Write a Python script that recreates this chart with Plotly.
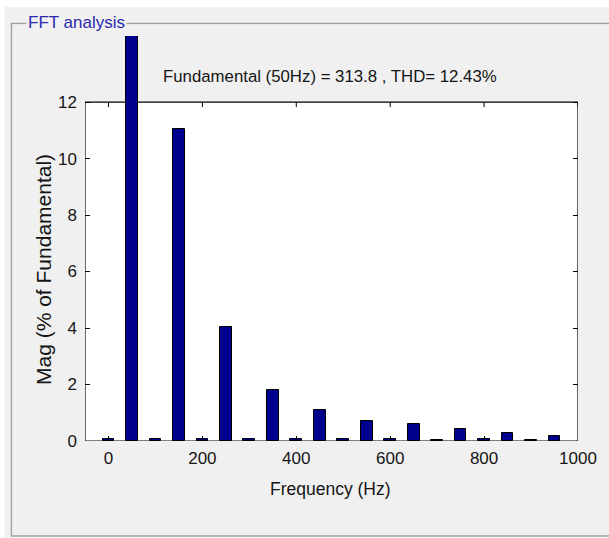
import plotly.graph_objects as go

# ---- data ----
freq_hz = [0, 50, 100, 150, 200, 250, 300, 350, 400, 450,
           500, 550, 600, 650, 700, 750, 800, 850, 900, 950]
mag_pct = [0.08, 100.0, 0.07, 11.05, 0.08, 4.05, 0.06, 1.81, 0.07, 1.10,
           0.06, 0.71, 0.06, 0.59, 0.05, 0.41, 0.06, 0.30, 0.05, 0.19]
x_ticks = [0, 200, 400, 600, 800, 1000]
y_ticks = [0, 2, 4, 6, 8, 10, 12]
title_text = "Fundamental (50Hz) = 313.8 , THD= 12.43%"
panel_title = "FFT analysis"
x_label = "Frequency (Hz)"
y_label = "Mag (% of Fundamental)"

W, H = 609, 538
L, R, T, B = 85, 31, 36, 97
PW, PH = W - L - R, H - T - B

def px(x):
    return (x - L) / PW

def py(y):
    return (H - B - y) / PH

FONT = "Liberation Sans, Arial, sans-serif"
TXT = "#151515"

fig = go.Figure(go.Bar(
    x=freq_hz, y=mag_pct, width=25,
    marker=dict(color="#00008f", line=dict(color="black", width=1)),
    hoverinfo="x+y",
))

shapes = []
# white strips at window edge
shapes.append(dict(type="rect", xref="paper", yref="paper", x0=px(-5), x1=px(W + 5),
                   y0=py(7), y1=py(-5), fillcolor="white", line=dict(width=0), layer="below"))
shapes.append(dict(type="rect", xref="paper", yref="paper", x0=px(-5), x1=px(4.5),
                   y0=py(H + 5), y1=py(-5), fillcolor="white", line=dict(width=0), layer="below"))
# panel etched border
shapes.append(dict(type="rect", xref="paper", yref="paper", x0=px(12.5), x1=px(W + 3),
                   y0=py(537), y1=py(24.5), line=dict(color="white", width=1), layer="below"))
shapes.append(dict(type="rect", xref="paper", yref="paper", x0=px(11.5), x1=px(W + 2),
                   y0=py(536), y1=py(23.5), line=dict(color="#a0a0a0", width=1.5), layer="below"))
# axes box
shapes.append(dict(type="rect", xref="x", yref="y", x0=-50, x1=1000, y0=0, y1=12,
                   fillcolor="white", line=dict(color="black", width=1.2), layer="below"))
# top ticks
for v in x_ticks:
    shapes.append(dict(type="line", xref="x", yref="y", ysizemode="pixel", yanchor=12,
                       x0=v, x1=v, y0=0, y1=-5, line=dict(color="black", width=1)))

annotations = [
    dict(text=title_text, xref="paper", yref="paper", x=px(330), y=py(76),
         xanchor="center", yanchor="middle", showarrow=False,
         font=dict(family=FONT, size=16.8, color=TXT)),
    dict(text=panel_title, xref="paper", yref="paper", x=px(76), y=py(22),
         xanchor="center", yanchor="middle", showarrow=False, bgcolor="#f0f0f0",
         borderpad=1, font=dict(family=FONT, size=17, color="#2a2ab0")),
    dict(text=x_label, xref="paper", yref="paper", x=px(330), y=py(489),
         xanchor="center", yanchor="middle", showarrow=False,
         font=dict(family=FONT, size=17.5, color=TXT)),
    dict(text=y_label, xref="paper", yref="paper", x=px(43), y=py(270),
         xanchor="center", yanchor="middle", showarrow=False, textangle=-90,
         font=dict(family=FONT, size=21, color=TXT)),
]

fig.update_layout(
    width=W, height=H,
    margin=dict(l=L, r=R, t=T, b=B, pad=0),
    paper_bgcolor="#f0f0f0", plot_bgcolor="rgba(0,0,0,0)",
    showlegend=False, bargap=0,
    shapes=shapes, annotations=annotations,
    xaxis=dict(range=[-50, 1000], tickvals=x_ticks, ticks="inside", ticklen=5,
               tickcolor="black", showgrid=False, zeroline=False, showline=False,
               ticklabelstandoff=5,
               tickfont=dict(family=FONT, size=17, color=TXT), fixedrange=True),
    yaxis=dict(range=[0, 14.34], tickvals=y_ticks, ticks="inside", ticklen=5,
               tickcolor="black", mirror="ticks", showgrid=False, zeroline=False,
               showline=False, ticklabelstandoff=7,
               tickfont=dict(family=FONT, size=17, color=TXT), fixedrange=True),
)

fig.write_html("out.html", config={"displayModeBar": False},
               post_script="document.body.style.margin='0';document.body.style.overflow='hidden';")
